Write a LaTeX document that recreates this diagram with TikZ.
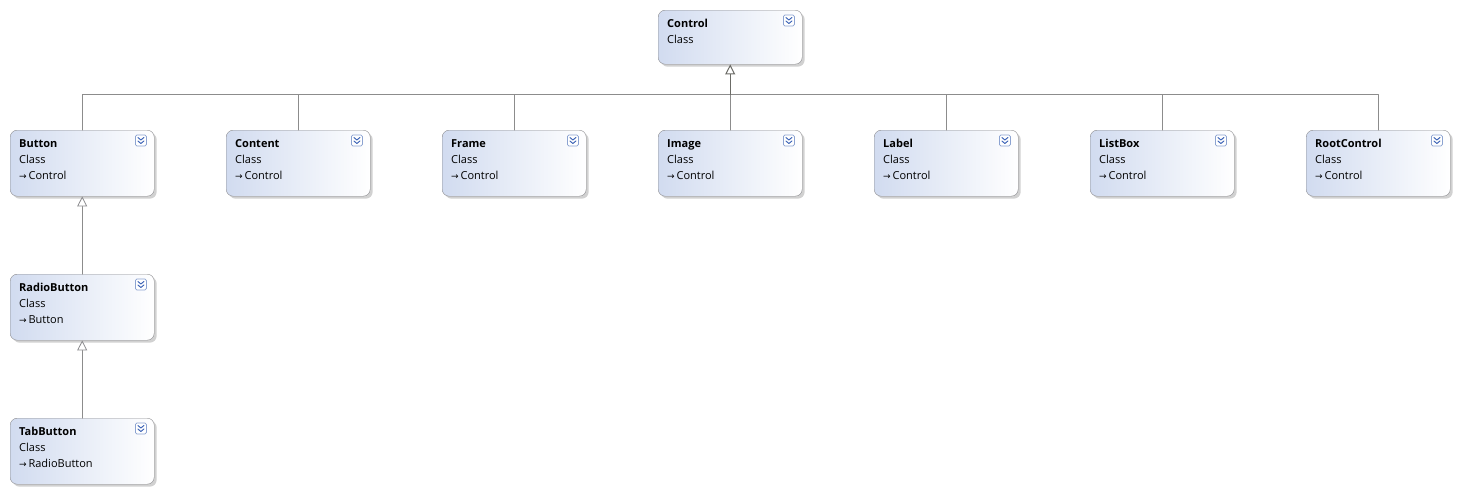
\documentclass[tikz,border=0pt]{standalone}
\usepackage{fontspec}
\setmainfont{Open Sans}
\newfontfamily\arrfont{DejaVu Sans}
\usetikzlibrary{arrows.meta,shadows,calc}
\definecolor{ggbox}{rgb}{0.55,0.55,0.56}
\definecolor{llblue}{rgb}{0.82,0.86,0.94}
\definecolor{ccline}{rgb}{0.55,0.55,0.55}
\definecolor{ddline}{rgb}{0.42,0.42,0.40}
\definecolor{iiblue}{rgb}{0.25,0.40,0.72}
\definecolor{iiedge}{rgb}{0.55,0.64,0.82}
\newcommand{\baseof}[1]{{\arrfont\fontsize{9}{16}\selectfont →}\,#1}
\newcommand{\ctitle}[1]{\rule{0pt}{9pt}\textbf{#1}}

\begin{document}
\begin{tikzpicture}[x=1pt,y=-1pt,line cap=round,line join=round,
  cls/.style={draw=ggbox,rounded corners=7pt,anchor=north west,minimum width=144pt,
    left color=llblue,right color=white,inner sep=0pt,
    drop shadow={shadow xshift=2.5pt,shadow yshift=-2.5pt,fill=black,opacity=0.18}},
  txt/.style={anchor=north west,align=left,inner sep=0pt,font=\fontsize{11}{16}\selectfont},
  conn/.style={draw=ccline,line width=1pt},
  inh/.style={draw=ddline,line width=1.4pt,-{Triangle[open,length=10pt,width=10pt,line width=1pt,fill=white]}},
  sub/.style={draw=ccline,line width=1pt,-{Triangle[open,length=10pt,width=10pt,line width=0.8pt,fill=white,color=ggbox]}},
  icon/.style={draw=iiedge,fill=white,rounded corners=1.5pt,line width=0.8pt},
  chev/.style={draw=iiblue,line width=1pt}]
\useasboundingbox (0,0) rectangle (1483,493);

% top class
\node[cls,minimum height=54pt] (control) at (658,10) {};
\node[txt] (control-t) at ([shift={(9pt,-8.5pt)}]control.north west) {\ctitle{Control}\\Class};

% second row
\foreach \n/\t [count=\i from 0] in {button/Button,content/Content,frame/Frame,image/Image,label/Label,listbox/ListBox,rootcontrol/RootControl}
{
  \node[cls,minimum height=66pt] (\n) at (10+216*\i,130) {};
  \node[txt] (\n-t) at ([shift={(9pt,-8.5pt)}]\n.north west) {\ctitle{\t}\\Class\\\baseof{Control}};
}

% under Button
\node[cls,minimum height=66pt] (radiobutton) at (10,274) {};
\node[txt] (radiobutton-t) at ([shift={(9pt,-8.5pt)}]radiobutton.north west) {\ctitle{RadioButton}\\Class\\\baseof{Button}};
\node[cls,minimum height=66pt] (tabbutton) at (10,418) {};
\node[txt] (tabbutton-t) at ([shift={(9pt,-8.5pt)}]tabbutton.north west) {\ctitle{TabButton}\\Class\\\baseof{RadioButton}};

% collapse icons
\foreach \n in {control,button,content,frame,image,label,listbox,rootcontrol,radiobutton,tabbutton}
{
  \draw[icon] ([shift={(-19pt,-5pt)}]\n.north east) rectangle +(11,11);
  \draw[chev] ([shift={(-16.5pt,-7.5pt)}]\n.north east) -- +(3,2.5) -- +(6,0);
  \draw[chev] ([shift={(-16.5pt,-11pt)}]\n.north east) -- +(3,2.5) -- +(6,0);
}

% connectors
\coordinate (bus) at ([yshift=-30pt]control.south);
\foreach \n in {button,content,frame,image,label,listbox,rootcontrol}
  \draw[conn] (\n.north) |- (bus);
\draw[inh] (bus) -- (control.south);
\draw[sub] (radiobutton.north) -- (button.south);
\draw[sub] (tabbutton.north) -- (radiobutton.south);
\end{tikzpicture}
\end{document}
